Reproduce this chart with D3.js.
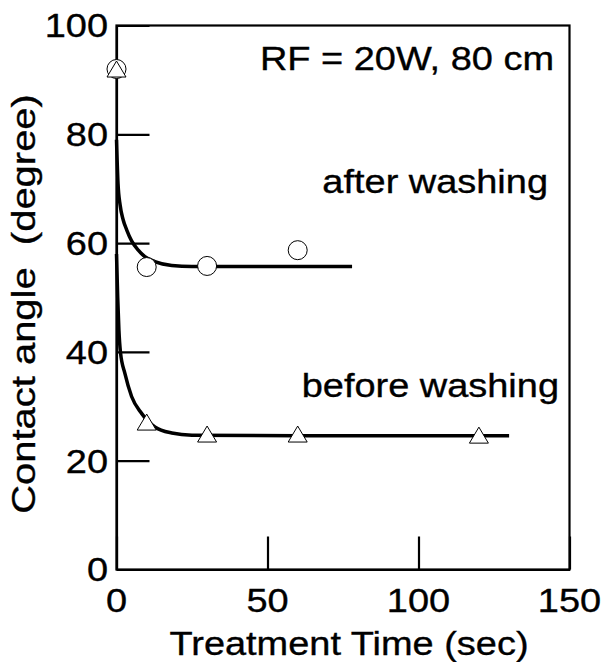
<!DOCTYPE html>
<html>
<head>
<meta charset="utf-8">
<script src="https://cdn.jsdelivr.net/npm/d3@7"></script>
<style>
  html, body { margin: 0; padding: 0; background: #fff; }
  svg { display: block; }
  text { font-family: "Liberation Sans", Arial, Helvetica, sans-serif; fill: #000; stroke: #000; stroke-width: 0.35px; white-space: pre; }
</style>
</head>
<body>
<svg id="chart" width="605" height="662"></svg>
<script>
// ---- data ----
const xTicks = [0, 50, 100, 150];
const yTicks = [0, 20, 40, 60, 80, 100];
const xLabel = "Treatment Time (sec)";
const yLabel = "Contact angle  (degree)";
const annotation = "RF = 20W, 80 cm";
const seriesNames = ["after washing", "before washing"];

// measured points
const afterT = [0, 10, 30, 60];
const afterV = [92, 55.6, 55.8, 58.7];
const beforeT = [0, 10, 30, 60, 120];
const beforeV = [92, 27.1, 24.9, 24.9, 24.7];

// fitted curves
const afterCurveT = [0, 0.5, 1.2, 2.2, 3.4, 5, 7.2, 9.4, 12.7, 18.3, 25, 40, 78];
const afterCurveV = [79, 71, 67, 64.3, 62.4, 60.4, 58.7, 57.5, 56.6, 55.9, 55.7, 55.7, 55.7];
const beforeCurveT = [0, 0.4, 0.8, 1.3, 2.8, 5, 8.3, 12.7, 18.3, 25, 60, 130];
const beforeCurveV = [58, 50, 44, 40, 36, 31.8, 28.7, 26.2, 25.1, 24.7, 24.6, 24.6];

// ---- layout ----
const svg = d3.select("#chart");
const x = d3.scaleLinear().domain([0, 150]).range([116.5, 569.5]);
const y = d3.scaleLinear().domain([0, 100]).range([569.5, 25.5]);
const FS = 33, SX = 1.15;

function stretchText(txt, tx, ty, anchor, rot, size) {
  return svg.append("text")
    .attr("transform", `translate(${tx},${ty}) rotate(${rot || 0}) scale(${SX},1)`)
    .attr("text-anchor", anchor)
    .attr("xml:space", "preserve")
    .style("font-size", (size || FS) + "px")
    .text(txt);
}

// frame
svg.append("rect")
  .attr("x", x(0)).attr("y", y(100))
  .attr("width", x(150) - x(0)).attr("height", y(0) - y(100))
  .attr("fill", "none").attr("stroke", "#000").attr("stroke-width", 2.2);

// inward ticks via d3 axes
const yAxis = d3.axisLeft(y).tickValues(yTicks).tickSizeInner(-33).tickSizeOuter(0).tickFormat("");
const xAxis = d3.axisBottom(x).tickValues(xTicks).tickSizeInner(-33).tickSizeOuter(0).tickFormat("");
const gy = svg.append("g").attr("transform", `translate(${x(0)},0)`).call(yAxis);
const gx = svg.append("g").attr("transform", `translate(0,${y(0)})`).call(xAxis);
[gy, gx].forEach(g => {
  g.select(".domain").attr("stroke", "#000").attr("stroke-width", 2.2);
  g.selectAll(".tick line").attr("stroke", "#000").attr("stroke-width", 2.2);
});

// tick labels
yTicks.forEach(v => {
  stretchText(String(v), x(0) - 8.5, y(v), "end").attr("dy", "0.36em");
});
xTicks.forEach(v => {
  stretchText(String(v), x(v), 612, "middle");
});

// axis titles
stretchText(xLabel, 349, 655, "middle");
stretchText(yLabel, 35, 304, "middle", -90)
  .attr("textLength", 365).attr("lengthAdjust", "spacingAndGlyphs");

// annotations
stretchText(annotation, 554, 69.5, "end");
stretchText(seriesNames[0], 548, 193, "end");
stretchText(seriesNames[1], 559, 396.5, "end");

// curves
const line = d3.line().x(d => x(d[0])).y(d => y(d[1])).curve(d3.curveMonotoneX);
const afterCurve = afterCurveT.map((t, i) => [t, afterCurveV[i]]);
const beforeCurve = beforeCurveT.map((t, i) => [t, beforeCurveV[i]]);
[afterCurve, beforeCurve].forEach(c => {
  svg.append("path").datum(c).attr("d", line)
    .attr("fill", "none").attr("stroke", "#000").attr("stroke-width", 3.5)
    .attr("stroke-linecap", "butt");
});

// markers
const afterPts = afterT.map((t, i) => [t, afterV[i]]);
const beforePts = beforeT.map((t, i) => [t, beforeV[i]]);
svg.append("g").selectAll("circle").data(afterPts).join("circle")
  .attr("cx", d => x(d[0])).attr("cy", d => y(d[1])).attr("r", 9.5)
  .attr("fill", "#fff").attr("stroke", "#000").attr("stroke-width", 1);
svg.append("g").selectAll("path").data(beforePts).join("path")
  .attr("transform", d => `translate(${x(d[0])},${y(d[1])})`)
  .attr("d", "M0,-8 L9.5,8 L-9.5,8 Z")
  .attr("fill", "#fff").attr("stroke", "#000").attr("stroke-width", 1)
  .attr("stroke-linejoin", "miter");
</script>
</body>
</html>
